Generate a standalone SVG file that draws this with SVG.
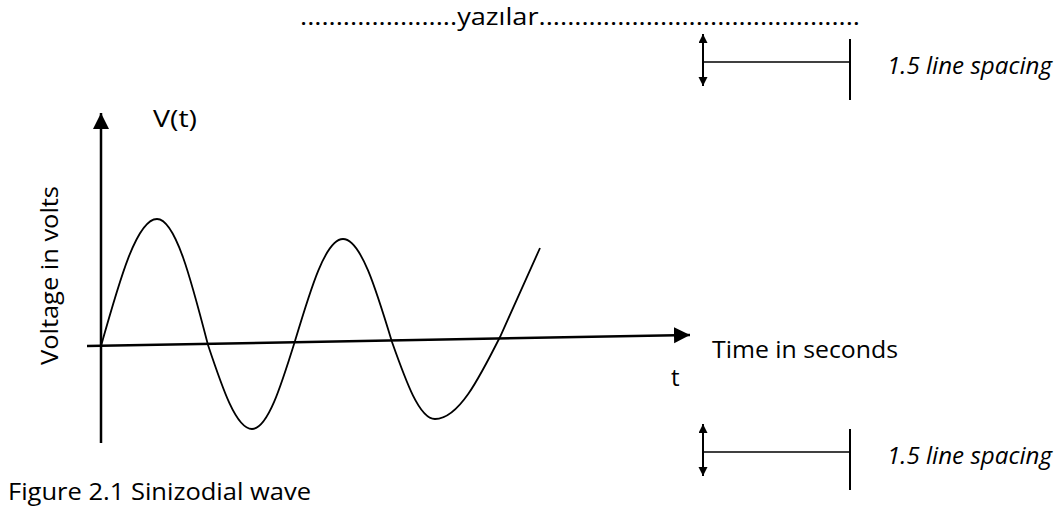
<svg xmlns="http://www.w3.org/2000/svg" width="1057" height="509" viewBox="0 0 1057 509">
  <style>
    .t { font-family: "Open Sans", "Liberation Sans", sans-serif; font-size: 24px; fill: #000; }
    .it { font-family: "Open Sans", "Liberation Sans", sans-serif; font-size: 23px; font-style: italic; fill: #000; }
    .ax { stroke: #000; stroke-width: 2.5; fill: none; }
    .wave { stroke: #000; stroke-width: 1.8; fill: none; }
    .sp { stroke: #000; stroke-width: 2; fill: none; }
    .hl { stroke: #000; stroke-width: 1.5; fill: none; }
  </style>
  <defs>
    <marker id="bigArrow" markerUnits="userSpaceOnUse" markerWidth="18" markerHeight="18" refX="16" refY="8" orient="auto">
      <path d="M0,0 L16,8 L0,16 Z" fill="#000"/>
    </marker>
    <marker id="smallArrow" markerUnits="userSpaceOnUse" markerWidth="12" markerHeight="12" refX="9" refY="4.5" orient="auto-start-reverse">
      <path d="M0,0 L9,4.5 L0,9 Z" fill="#000"/>
    </marker>
  </defs>
  <rect width="1057" height="509" fill="#fff"/>

  <g id="header-text">
    <text class="t" x="300" y="25" textLength="560" lengthAdjust="spacingAndGlyphs">......................yazılar.............................................</text>
  </g>

  <g id="spacing-top">
    <line class="sp" x1="703" y1="34" x2="703" y2="86" marker-start="url(#smallArrow)" marker-end="url(#smallArrow)"/>
    <line class="hl" x1="704" y1="62" x2="850" y2="62"/>
    <line class="sp" x1="850" y1="39" x2="850" y2="100"/>
    <text class="it" x="887" y="74" textLength="165" lengthAdjust="spacingAndGlyphs">1.5 line spacing</text>
  </g>

  <g id="connectors">
    <line class="ax" x1="101" y1="443" x2="101" y2="113" marker-end="url(#bigArrow)"/>
    <line class="ax" x1="87" y1="346" x2="690" y2="335" marker-end="url(#bigArrow)"/>
  </g>

  <g id="wave">
    <path class="wave" d="M101,346 C119.3,280.9 136.7,219 157,219 C175.5,219 191.3,280.4 208,345 C222.4,388.1 236.1,429 252,429 C267.6,429 281,386.1 295,341 C310.7,288.7 325.6,239 343,239 C360.7,239 376,289.2 392,342 C406,381.5 419.4,419 435,419 C458.5,419 478.8,379 500,337 C514,306 527,277 540,248"/>
  </g>

  <g id="labels">
    <text class="t" x="153" y="127" textLength="44" lengthAdjust="spacingAndGlyphs">V(t)</text>
    <text class="t" transform="translate(58,365) rotate(-90)" x="0" y="0" textLength="179" lengthAdjust="spacingAndGlyphs">Voltage in volts</text>
    <text class="t" x="712" y="358" textLength="186" lengthAdjust="spacingAndGlyphs">Time in seconds</text>
    <text class="t" x="671" y="386">t</text>
    <text class="t" x="8" y="500" textLength="303" lengthAdjust="spacingAndGlyphs">Figure 2.1 Sinizodial wave</text>
  </g>

  <g id="spacing-bottom">
    <line class="sp" x1="703" y1="424" x2="703" y2="476" marker-start="url(#smallArrow)" marker-end="url(#smallArrow)"/>
    <line class="hl" x1="704" y1="452" x2="850" y2="452"/>
    <line class="sp" x1="850" y1="429" x2="850" y2="490"/>
    <text class="it" x="887" y="464" textLength="165" lengthAdjust="spacingAndGlyphs">1.5 line spacing</text>
  </g>
</svg>
